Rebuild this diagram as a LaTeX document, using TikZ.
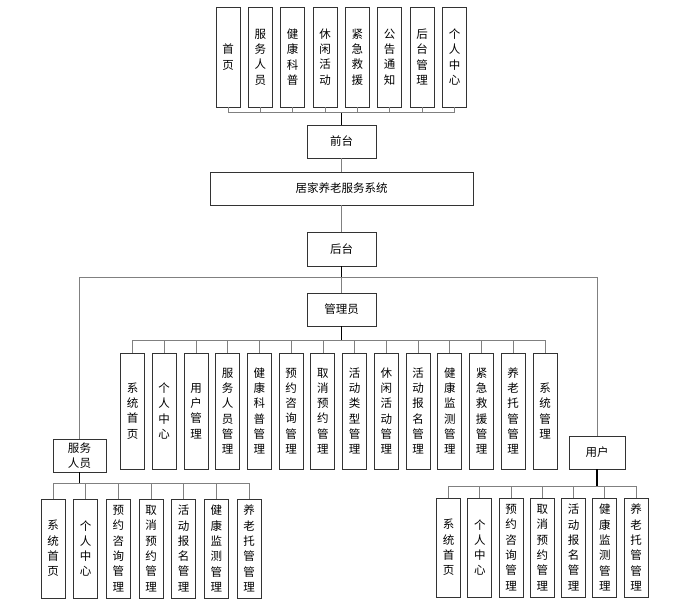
\documentclass[tikz,border=0pt]{standalone}
\usepackage{fontspec}
\setmainfont{Noto Sans CJK SC}
\XeTeXlinebreaklocale "zh"
\XeTeXlinebreakskip=0pt plus 1pt
\usetikzlibrary{positioning}

\begin{document}
\begin{tikzpicture}[x=1pt,y=-1pt,
every node/.style={draw=black!80,line width=0.9pt,fill=white,inner sep=0pt,align=center,
  font=\fontsize{11.5}{15.3}\selectfont},
col/.style={minimum width=24,text width=11.5pt,minimum height=100},
tallcol/.style={col,minimum height=116},
box/.style={minimum width=69,minimum height=33},
link/.style={draw=black!50,line width=0.8pt},
stem/.style={draw=black,line width=1.6pt}]
\useasboundingbox (0,0) rectangle (700,605);
\node[col] (T1) at (228,57) {首页};
\node[col] (T2) at (260.3,57) {服务人员};
\node[col] (T3) at (292.7,57) {健康科普};
\node[col] (T4) at (325,57) {休闲活动};
\node[col] (T5) at (357.4,57) {紧急救援};
\node[col] (T6) at (389.7,57) {公告通知};
\node[col] (T7) at (422,57) {后台管理};
\node[col] (T8) at (454.5,57) {个人中心};
\node[box] (QT) at (341.5,141.5) {前台};
\node[box,minimum width=263] (XT) at (341.5,188.5) {居家养老服务系统};
\node[box,minimum height=34] (HT) at (341.5,249) {后台};
\node[box] (GL) at (341.5,309.5) {管理员};
\node[tallcol] (M1) at (132.5,411) {系统首页};
\node[tallcol] (M2) at (164.2,411) {个人中心};
\node[tallcol] (M3) at (196,411) {用户管理};
\node[tallcol] (M4) at (227.7,411) {服务人员管理};
\node[tallcol] (M5) at (259.4,411) {健康科普管理};
\node[tallcol] (M6) at (291.1,411) {预约咨询管理};
\node[tallcol] (M7) at (322.9,411) {取消预约管理};
\node[tallcol] (M8) at (354.6,411) {活动类型管理};
\node[tallcol] (M9) at (386.3,411) {休闲活动管理};
\node[tallcol] (M10) at (418,411) {活动报名管理};
\node[tallcol] (M11) at (449.8,411) {健康监测管理};
\node[tallcol] (M12) at (481.5,411) {紧急救援管理};
\node[tallcol] (M13) at (513.2,411) {养老托管管理};
\node[tallcol] (M14) at (545,411) {系统管理};
\node[box,minimum width=53,text width=40pt] (FW) at (79.5,455.5) {服务人员};
\node[box,minimum width=56] (YH) at (597,452.5) {用户};
\node[col,minimum height=99] (S1) at (53,548.5) {系统首页};
\node[col,minimum height=99] (S2) at (85.7,548.5) {个人中心};
\node[col,minimum height=99] (S3) at (118.3,548.5) {预约咨询管理};
\node[col,minimum height=99] (S4) at (151,548.5) {取消预约管理};
\node[col,minimum height=99] (S5) at (183.7,548.5) {活动报名管理};
\node[col,minimum height=99] (S6) at (216.3,548.5) {健康监测管理};
\node[col,minimum height=99] (S7) at (249,548.5) {养老托管管理};
\node[col,minimum height=99] (U1) at (448.5,547.5) {系统首页};
\node[col,minimum height=99] (U2) at (479.8,547.5) {个人中心};
\node[col,minimum height=99] (U3) at (511,547.5) {预约咨询管理};
\node[col,minimum height=99] (U4) at (542.3,547.5) {取消预约管理};
\node[col,minimum height=99] (U5) at (573.5,547.5) {活动报名管理};
\node[col,minimum height=99] (U6) at (604.8,547.5) {健康监测管理};
\node[col,minimum height=99] (U7) at (636,547.5) {养老托管管理};
\draw[stem] (QT.north) -- ++(0,-12) coordinate (qb);
\draw[link] (T1.south) |- (qb) (T2.south) |- (qb) (T3.south) |- (qb) (T4.south) |- (qb)
  (T5.south) |- (qb) (T6.south) |- (qb) (T7.south) |- (qb) (T8.south) |- (qb);
\draw[link] (QT)--(XT)--(HT);
\draw[stem] (HT.south) -- ++(0,11) coordinate (hb);
\draw[link] (hb)--(GL);
\draw[link] (FW.north) |- (hb) -| (YH.north);
\draw[stem] (GL.south) -- ++(0,14) coordinate (gb);
\draw[link] (M1.north) |- (gb) (M2.north) |- (gb) (M3.north) |- (gb) (M4.north) |- (gb)
  (M5.north) |- (gb) (M6.north) |- (gb) (M7.north) |- (gb) (M8.north) |- (gb)
  (M9.north) |- (gb) (M10.north) |- (gb) (M11.north) |- (gb) (M12.north) |- (gb)
  (M13.north) |- (gb) (M14.north) |- (gb);
\draw[stem] (FW.south) -- ++(0,11) coordinate (sb);
\draw[link] (S1.north) |- (sb) (S2.north) |- (sb) (S3.north) |- (sb) (S4.north) |- (sb)
  (S5.north) |- (sb) (S6.north) |- (sb) (S7.north) |- (sb);
\draw[stem] (YH.south) -- ++(0,17) coordinate (ub);
\draw[link] (U1.north) |- (ub) (U2.north) |- (ub) (U3.north) |- (ub) (U4.north) |- (ub)
  (U5.north) |- (ub) (U6.north) |- (ub) (U7.north) |- (ub);
\end{tikzpicture}
\end{document}
